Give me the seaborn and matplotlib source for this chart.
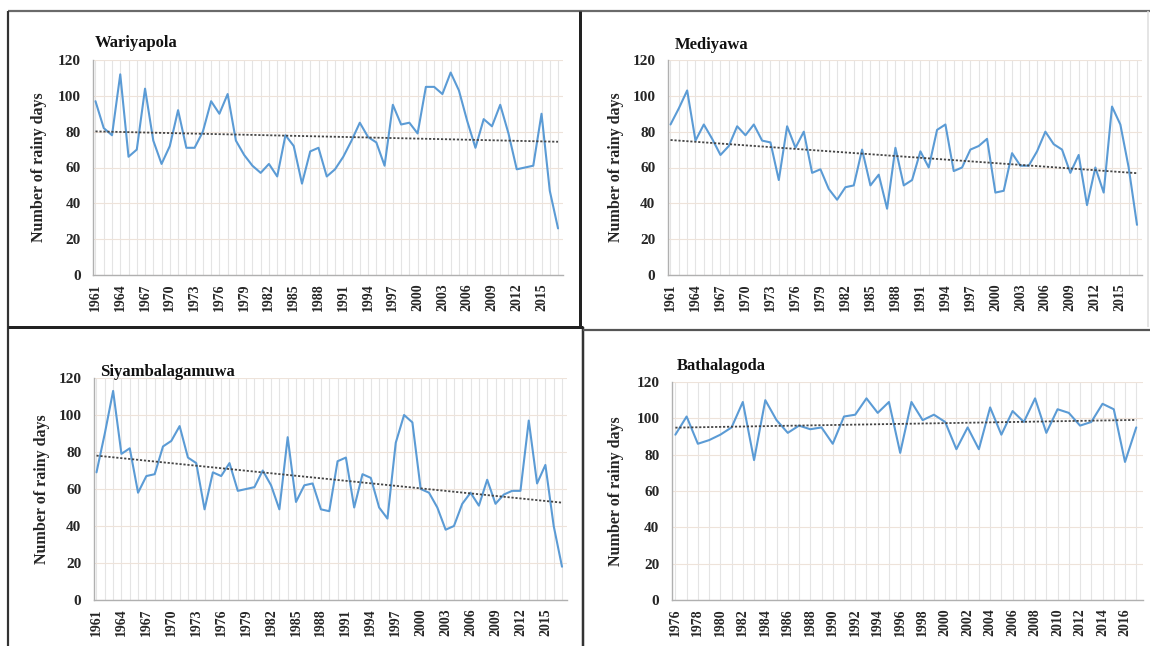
import numpy as np
import pandas as pd
import matplotlib
matplotlib.use("Agg")
import matplotlib.pyplot as plt
from matplotlib.lines import Line2D
from matplotlib.ticker import FixedLocator
import seaborn as sns

# ---------------- data ----------------
years_a = list(range(1961, 2018))
wariyapola = [97, 82, 78, 112, 66, 70, 104, 75, 62, 72, 92, 71, 71, 80, 97, 90, 101, 75, 67, 61,
              57, 62, 55, 78, 72, 51, 69, 71, 55, 59, 66, 75, 85, 77, 74, 61, 95, 84, 85, 79,
              105, 105, 101, 113, 103, 86, 71, 87, 83, 95, 79, 59, 60, 61, 90, 47, 26]
mediyawa = [84, 93, 103, 75, 84, 76, 67, 72, 83, 78, 84, 75, 74, 53, 83, 71, 80, 57, 59, 48,
            42, 49, 50, 70, 50, 56, 37, 71, 50, 53, 69, 60, 81, 84, 58, 60, 70, 72, 76, 46,
            47, 68, 61, 61, 69, 80, 73, 70, 57, 67, 39, 60, 46, 94, 84, 60, 28]
siyambalagamuwa = [69, 90, 113, 79, 82, 58, 67, 68, 83, 86, 94, 77, 74, 49, 69, 67, 74, 59, 60, 61,
                   70, 62, 49, 88, 53, 62, 63, 49, 48, 75, 77, 50, 68, 66, 50, 44, 85, 100, 96, 60,
                   58, 50, 38, 40, 52, 58, 51, 65, 52, 57, 59, 59, 97, 63, 73, 40, 18]
years_b = list(range(1976, 2018))
bathalagoda = [91, 101, 86, 88, 91, 95, 109, 77, 110, 99, 92, 96, 94, 95, 86, 101, 102, 111, 103, 109,
               81, 109, 99, 102, 98, 83, 95, 83, 106, 91, 104, 98, 111, 92, 105, 103, 96, 98, 108, 105,
               76, 95]

stations = ["Wariyapola", "Mediyawa", "Siyambalagamuwa", "Bathalagoda"]
y_ticks = [0, 20, 40, 60, 80, 100, 120]
ylabel = "Number of rainy days"

# ---------------- style ----------------
sns.set_theme(style="white")
plt.rcParams['font.family'] = ['Liberation Serif', 'DejaVu Serif']
plt.rcParams['font.weight'] = 'bold'

W, H = 1150, 646
fig = plt.figure(figsize=(W / 100, H / 100), dpi=100)

def px_axes(l, r, t, b):
    return fig.add_axes([l / W, 1 - b / H, (r - l) / W, (b - t) / H])

LINE_C = "#5b9bd5"
TREND_C = "#454545"

panels = [
    dict(name=stations[0], years=years_a, vals=wariyapola, box=(93, 563, 60, 275), tstep=3,
         title_xy=(95, 43), ylab_x=-0.097),
    dict(name=stations[1], years=years_a, vals=mediyawa, box=(668, 1142, 60, 275), tstep=3,
         title_xy=(675, 45), ylab_x=-0.092),
    dict(name=stations[2], years=years_a, vals=siyambalagamuwa, box=(94, 567, 378, 600), tstep=3,
         title_xy=(100, 372), ylab_x=-0.094),
    dict(name=stations[3], years=years_b, vals=bathalagoda, box=(672, 1143, 382, 600), tstep=2,
         title_xy=(677, 366), ylab_x=-0.101),
]

for p in panels:
    l, r, t, b = p["box"]
    ax = px_axes(l, r, t, b)
    df = pd.DataFrame({"year": p["years"], "days": p["vals"]})
    yrs = p["years"]
    ax.set_axisbelow(True)
    ax.xaxis.set_minor_locator(FixedLocator(yrs))
    ax.grid(which="minor", axis="x", color="#e4e4e4", lw=0.8)
    ax.grid(which="major", axis="y", color="#eee3da", lw=0.8)
    ax.grid(which="major", axis="x", color="#e4e4e4", lw=0.8)
    sns.lineplot(data=df, x="year", y="days", ax=ax, color=LINE_C, lw=1.5)
    sns.regplot(data=df, x="year", y="days", ax=ax, scatter=False, ci=None,
                line_kws=dict(color=TREND_C, lw=1.3, ls=(0, (1.2, 1.0))))
    ax.set_xlim(yrs[0] - 0.3, yrs[-1] + 0.6)
    ax.set_ylim(0, 120)
    ax.set_yticks(y_ticks)
    if p["tstep"] == 3:
        xt = [y for y in yrs[::3] if y <= 2015]
    else:
        xt = yrs[::2]
    ax.set_xticks(xt)
    ax.set_xticklabels([str(v) for v in xt], rotation=90, fontsize=10, fontweight="bold")
    ax.set_yticklabels([str(v) for v in y_ticks], fontsize=11, fontweight="bold")
    ax.tick_params(axis="both", which="both", length=0)
    ax.tick_params(axis="y", pad=9)
    ax.tick_params(axis="x", pad=6)
    ax.set_xlabel("")
    ax.set_ylabel(ylabel, fontsize=11.5, fontweight="bold")
    ax.yaxis.set_label_coords(p["ylab_x"], 0.5)
    for s in ["top", "right"]:
        ax.spines[s].set_visible(False)
    for s in ["left", "bottom"]:
        ax.spines[s].set_color("#b0b0b0")
        ax.spines[s].set_linewidth(1.0)
    tx, ty = p["title_xy"]
    fig.text(tx / W, 1 - ty / H, p["name"], fontsize=12, fontweight="bold",
             ha="left", va="center", color="#111111")

# ---------------- panel borders ----------------
def pline(x0, y0, x1, y1, color, lwpx):
    fig.add_artist(Line2D([x0 / W, x1 / W], [1 - y0 / H, 1 - y1 / H],
                          transform=fig.transFigure, color=color, lw=lwpx * 0.72,
                          solid_capstyle="butt"))

pline(8, 11, 1150, 11, "#6a6a6a", 2.2)
pline(8, 11, 8, 646, "#333333", 2.2)
pline(580, 11, 580, 327, "#222222", 3)
pline(583, 327, 583, 646, "#333333", 2.5)
pline(8, 327, 583, 327, "#222222", 3)
pline(583, 330, 1150, 330, "#555555", 2.2)
pline(1148, 11, 1148, 327, "#dddddd", 1.5)

fig.savefig("out.png", dpi=100)
